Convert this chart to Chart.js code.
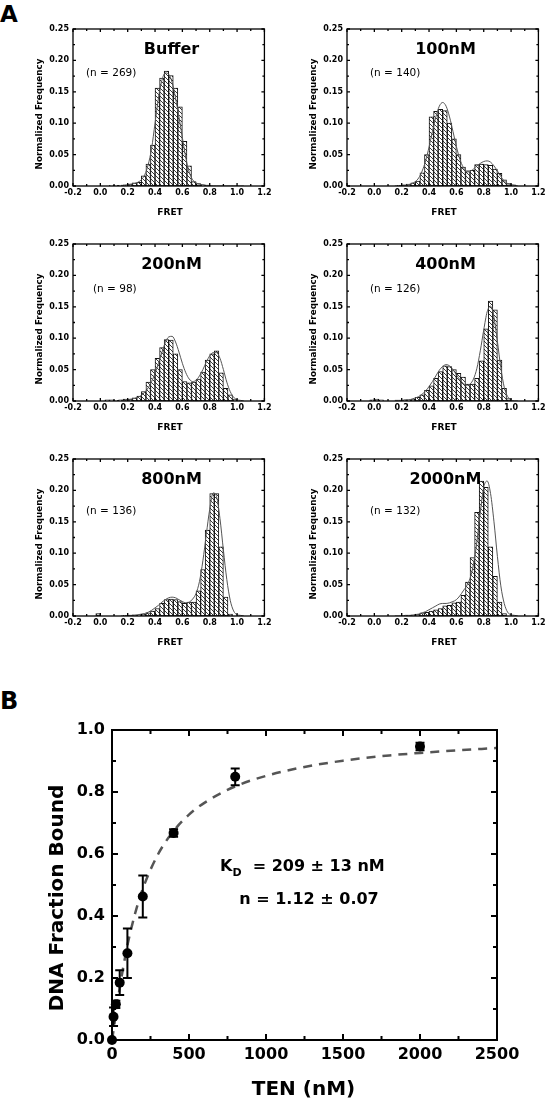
<!DOCTYPE html>
<html>
<head>
<meta charset="utf-8">
<script src="https://cdn.jsdelivr.net/npm/chart.js@4.4.1/dist/chart.umd.min.js"></script>
<style>
  body { margin: 0; background: #fff; width: 548px; height: 1103px; position: relative; overflow: hidden; }
  .panel { position: absolute; }
  .letter { position: absolute; left: 0; font: bold 23px 'DejaVu Sans'; line-height: 23px; }
</style>
</head>
<body>
<div class="letter" style="top:3px">A</div>
<div class="letter" style="top:689px;font-size:24px;line-height:24px">B</div>

<script>
// ── Panel A: FRET histograms (bin width 1/30) ─────────
const BIN_CENTERS = [-0.0167, 0.0167, 0.05, 0.0833, 0.1167, 0.15, 0.1833, 0.2167, 0.25, 0.2833, 0.3167,
  0.35, 0.3833, 0.4167, 0.45, 0.4833, 0.5167, 0.55, 0.5833, 0.6167, 0.65, 0.6833, 0.7167, 0.75,
  0.7833, 0.8167, 0.85, 0.8833, 0.9167, 0.95, 0.9833, 1.0167, 1.05]

const PANEL_LABELS = ['Buffer', '100nM', '200nM', '400nM', '800nM', '2000nM']
const PANEL_N      = [269, 140, 98, 126, 136, 132]

const FREQ_BUFFER = [0, 0, 0, 0.001, 0.001, 0.001, 0.002, 0.003, 0.005, 0.006, 0.016, 0.035, 0.065,
  0.156, 0.172, 0.183, 0.176, 0.156, 0.126, 0.071, 0.032, 0.007, 0.004, 0.002, 0.001, 0, 0, 0, 0, 0, 0, 0, 0]
const FREQ_100 = [0, 0, 0, 0, 0, 0, 0.001, 0.002, 0.003, 0.005, 0.008, 0.021, 0.05,
  0.11, 0.119, 0.122, 0.12, 0.1, 0.075, 0.05, 0.03, 0.023, 0.025, 0.034, 0.035, 0.034, 0.033, 0.027, 0.02, 0.01, 0.004, 0.002, 0]
const FREQ_200 = [0, 0, 0.002, 0.002, 0.001, 0.002, 0.003, 0.003, 0.005, 0.008, 0.015, 0.03, 0.05,
  0.068, 0.085, 0.098, 0.097, 0.075, 0.05, 0.031, 0.029, 0.03, 0.035, 0.046, 0.065, 0.075, 0.08, 0.045, 0.02, 0.01, 0.003, 0, 0]
const FREQ_400 = [0.002, 0.003, 0.002, 0, 0, 0, 0, 0.001, 0.002, 0.003, 0.006, 0.01, 0.017,
  0.024, 0.036, 0.047, 0.056, 0.055, 0.05, 0.044, 0.038, 0.027, 0.027, 0.036, 0.064, 0.115, 0.159, 0.145, 0.065, 0.02, 0.004, 0, 0]
const FREQ_800 = [0.004, 0, 0, 0, 0, 0, 0.001, 0.001, 0.002, 0.002, 0.003, 0.005, 0.008,
  0.012, 0.02, 0.026, 0.027, 0.026, 0.023, 0.02, 0.022, 0.022, 0.04, 0.074, 0.137, 0.195, 0.195, 0.11, 0.03, 0.003, 0, 0, 0]
const FREQ_2000 = [0, 0, 0, 0, 0, 0, 0, 0, 0.001, 0.002, 0.003, 0.005, 0.006,
  0.008, 0.01, 0.012, 0.016, 0.017, 0.021, 0.022, 0.033, 0.054, 0.093, 0.165, 0.215, 0.205, 0.11, 0.063, 0.022, 0.004, 0, 0, 0]

// Gaussian fit curves
const FIT_X = [0.15, 0.175, 0.2, 0.225, 0.25, 0.275, 0.3, 0.325, 0.35, 0.375, 0.4, 0.425, 0.45, 0.475,
  0.5, 0.525, 0.55, 0.575, 0.6, 0.625, 0.65, 0.675, 0.7, 0.725, 0.75, 0.775, 0.8, 0.825, 0.85, 0.875,
  0.9, 0.925, 0.95, 0.975, 1.0, 1.025, 1.05]
const FIT_BUFFER = [0.001, 0.001, 0.002, 0.003, 0.004, 0.006, 0.01, 0.018, 0.034, 0.06, 0.1, 0.14, 0.168, 0.18,
  0.178, 0.165, 0.14, 0.11, 0.077, 0.045, 0.022, 0.01, 0.005, 0.003, 0.002, 0.001, 0.001, 0, 0, 0, 0, 0, 0, 0, 0, 0, 0]
const FIT_100 = [0, 0, 0.001, 0.001, 0.002, 0.004, 0.007, 0.013, 0.024, 0.04, 0.062, 0.087, 0.11, 0.127,
  0.133, 0.127, 0.11, 0.087, 0.063, 0.043, 0.03, 0.024, 0.024, 0.027, 0.032, 0.036, 0.039, 0.04, 0.038, 0.032,
  0.024, 0.015, 0.008, 0.004, 0.002, 0.001, 0]
const FIT_200 = [0.001, 0.001, 0.002, 0.003, 0.004, 0.006, 0.009, 0.014, 0.021, 0.031, 0.044, 0.06, 0.077, 0.093,
  0.102, 0.103, 0.094, 0.078, 0.06, 0.045, 0.035, 0.031, 0.033, 0.04, 0.05, 0.062, 0.072, 0.077, 0.077, 0.068,
  0.05, 0.03, 0.015, 0.006, 0.002, 0.001, 0]
const FIT_400 = [0.001, 0.001, 0.001, 0.002, 0.002, 0.003, 0.005, 0.007, 0.011, 0.016, 0.023, 0.031, 0.04, 0.049,
  0.055, 0.058, 0.056, 0.05, 0.042, 0.034, 0.028, 0.025, 0.027, 0.035, 0.052, 0.08, 0.113, 0.142, 0.151, 0.133,
  0.095, 0.053, 0.022, 0.007, 0.002, 0, 0]
const FIT_800 = [0, 0, 0.001, 0.001, 0.001, 0.002, 0.003, 0.004, 0.006, 0.009, 0.013, 0.017, 0.022, 0.026,
  0.029, 0.03, 0.029, 0.026, 0.023, 0.021, 0.022, 0.027, 0.036, 0.055, 0.088, 0.13, 0.17, 0.196, 0.19, 0.155,
  0.105, 0.058, 0.025, 0.008, 0.002, 0.001, 0]
const FIT_2000 = [0, 0, 0, 0.001, 0.001, 0.001, 0.002, 0.003, 0.005, 0.007, 0.01, 0.013, 0.016, 0.019,
  0.02, 0.02, 0.021, 0.023, 0.026, 0.032, 0.04, 0.048, 0.06, 0.082, 0.118, 0.165, 0.205, 0.215, 0.195, 0.15,
  0.095, 0.048, 0.02, 0.006, 0.002, 0.001, 0]

const HIST_FREQ = [FREQ_BUFFER, FREQ_100, FREQ_200, FREQ_400, FREQ_800, FREQ_2000]
const HIST_FIT  = [FIT_BUFFER, FIT_100, FIT_200, FIT_400, FIT_800, FIT_2000]

// ── Panel B: binding curve ────────────────────────────
const TEN_NM         = [0, 10, 25, 50, 100, 200, 400, 800, 2000]
const FRACTION_BOUND = [0.0, 0.075, 0.115, 0.185, 0.28, 0.463, 0.668, 0.849, 0.947]
const FRACTION_ERR   = [0, 0.03, 0.012, 0.04, 0.08, 0.068, 0.012, 0.027, 0.012]
const FIT_TEN   = [0, 10, 25, 50, 100, 150, 200, 300, 400, 500, 600, 800, 1000, 1200, 1500, 1800, 2000, 2200, 2500]
const FIT_BOUND = [0, 0.032, 0.085, 0.168, 0.305, 0.408, 0.488, 0.6, 0.674, 0.727, 0.765, 0.818, 0.852, 0.876,
  0.901, 0.918, 0.926, 0.933, 0.942]

// ── Layout (canvas positions, text offsets) ───────────
const FONT = '"DejaVu Sans"'
const HIST_POS  = [[0, 20], [274, 20], [0, 235], [274, 235], [0, 450], [274, 450]]
const N_OFFSET  = [[13, 46.5], [23, 46.5], [20, 47.5], [23, 47.5], [13, 55], [23, 55]]

Chart.defaults.font.family = 'DejaVu Sans'
Chart.defaults.color = '#000'
Chart.defaults.animation = false
Chart.defaults.events = []

function addCanvas(left, top, w, h) {
  const div = document.createElement('div')
  div.className = 'panel'
  div.style.left = left + 'px'
  div.style.top = top + 'px'
  const c = document.createElement('canvas')
  c.width = w
  c.height = h
  div.appendChild(c)
  document.body.appendChild(div)
  return c
}

function hatchPattern(ctx) {
  const tile = document.createElement('canvas')
  tile.width = 4
  tile.height = 4
  const g = tile.getContext('2d')
  g.fillStyle = '#fff'
  g.fillRect(0, 0, 4, 4)
  g.strokeStyle = '#222'
  g.lineWidth = 0.9
  g.beginPath()
  g.moveTo(-1, -1); g.lineTo(5, 5)
  g.moveTo(3, -1);  g.lineTo(5, 1)
  g.moveTo(-1, 3);  g.lineTo(1, 5)
  g.stroke()
  return ctx.createPattern(tile, 'repeat')
}

function drawText(ctx, a, t) {
  ctx.save()
  ctx.fillStyle = '#000'
  ctx.translate(a.left + t.x, a.top + t.y)
  if (t.rotate) ctx.rotate(-Math.PI / 2)
  ctx.textBaseline = t.baseline || 'alphabetic'
  ctx.textAlign = 'left'
  const parts = t.parts || [{ text: t.text, font: t.font }]
  let total = 0
  parts.forEach(p => { ctx.font = p.font; total += ctx.measureText(p.text).width })
  let x = t.align === 'center' ? -total / 2 : 0
  parts.forEach(p => {
    ctx.font = p.font
    ctx.fillText(p.text, x, p.dy || 0)
    x += ctx.measureText(p.text).width
  })
  ctx.restore()
}

// frame box + inward major/minor ticks on all four sides, plus free texts
function framePlugin(cfg) {
  return {
    id: 'frame',
    afterDraw(chart) {
      const { ctx, chartArea: a, scales } = chart
      const marks = scale => {
        const vals = scale.ticks.map(t => t.value)
        const out = []
        vals.forEach((v, i) => {
          out.push([v, cfg.major])
          if (i < vals.length - 1) out.push([(v + vals[i + 1]) / 2, cfg.minor])
        })
        return out
      }
      ctx.save()
      ctx.strokeStyle = '#000'
      ctx.lineWidth = cfg.lineWidth
      ctx.strokeRect(a.left, a.top, a.right - a.left, a.bottom - a.top)
      ctx.beginPath()
      marks(scales.x).forEach(([v, len]) => {
        const px = scales.x.getPixelForValue(v)
        ctx.moveTo(px, a.bottom); ctx.lineTo(px, a.bottom - len)
        ctx.moveTo(px, a.top);    ctx.lineTo(px, a.top + len)
      })
      marks(scales.y).forEach(([v, len]) => {
        const py = scales.y.getPixelForValue(v)
        ctx.moveTo(a.left, py);  ctx.lineTo(a.left + len, py)
        ctx.moveTo(a.right, py); ctx.lineTo(a.right - len, py)
      })
      ctx.stroke()
      ctx.restore()
      cfg.texts.forEach(t => drawText(ctx, a, t))
    },
  }
}

function fmt(v, d) {
  return (Math.abs(v) < 1e-9 ? 0 : v).toFixed(d)
}

// ── Histograms ─────────────────────────────────────────
PANEL_LABELS.forEach((label, i) => {
  const [left, top] = HIST_POS[i]
  const canvas = addCanvas(left, top, 274, 205)
  const ctx = canvas.getContext('2d')
  const tickFont = { family: 'DejaVu Sans', weight: 'bold', size: 8 }

  new Chart(canvas, {
    type: 'bar',
    data: {
      datasets: [
        {
          type: 'line',
          data: FIT_X.map((x, j) => ({ x, y: HIST_FIT[i][j] })),
          borderColor: '#555',
          borderWidth: 1,
          pointRadius: 0,
          cubicInterpolationMode: 'monotone',
        },
        {
          type: 'bar',
          data: BIN_CENTERS.map((x, j) => ({ x, y: HIST_FREQ[i][j] })),
          backgroundColor: hatchPattern(ctx),
          borderColor: '#111',
          borderWidth: 1,
          borderSkipped: false,
          categoryPercentage: 1,
          barPercentage: 1,
        },
      ],
    },
    options: {
      responsive: false,
      layout: { padding: { left: 0, top: 9, right: 7, bottom: 0 } },
      plugins: { legend: { display: false }, tooltip: { enabled: false } },
      scales: {
        x: {
          type: 'linear', min: -0.2, max: 1.2, offset: false,
          grid: { display: false, drawTicks: false, offset: false },
          border: { display: false },
          ticks: { stepSize: 0.2, padding: 2.5, font: tickFont, maxRotation: 0, autoSkip: false,
                   callback: v => fmt(v, 1) },
          afterFit: s => { s.height = 39 },
        },
        y: {
          min: 0, max: 0.25,
          grid: { display: false, drawTicks: false },
          border: { display: false },
          ticks: { stepSize: 0.05, padding: 4, font: tickFont, callback: v => fmt(v, 2) },
          afterFit: s => { s.width = 73 },
        },
      },
    },
    plugins: [framePlugin({
      lineWidth: 1.3, major: 3, minor: 2,
      texts: [
        { text: label, x: 98.5, y: 25, font: `bold 16px ${FONT}`, align: 'center' },
        { text: `(n = ${PANEL_N[i]})`, x: N_OFFSET[i][0], y: N_OFFSET[i][1], font: `10.5px ${FONT}` },
        { text: 'FRET', x: 97, y: 185.5, font: `bold 9px ${FONT}`, align: 'center' },
        { text: 'Normalized Frequency', x: -33, y: 85, font: `bold 8.8px ${FONT}`,
          align: 'center', rotate: true, baseline: 'middle' },
      ],
    })],
  })
})

// ── Binding curve ─────────────────────────────────────
{
  const canvas = addCanvas(0, 690, 548, 413)
  const tickFont = { family: 'DejaVu Sans', weight: 'bold', size: 16 }

  const errorBars = {
    id: 'errorBars',
    afterDatasetDraw(chart, args) {
      if (args.index !== 1) return
      const { ctx, scales: { x, y } } = chart
      ctx.save()
      ctx.strokeStyle = '#000'
      ctx.lineWidth = 2
      ctx.beginPath()
      TEN_NM.forEach((t, j) => {
        const e = FRACTION_ERR[j]
        if (!e) return
        const px = x.getPixelForValue(t)
        const y1 = y.getPixelForValue(FRACTION_BOUND[j] + e)
        const y2 = y.getPixelForValue(FRACTION_BOUND[j] - e)
        ctx.moveTo(px, y1); ctx.lineTo(px, y2)
        ctx.moveTo(px - 4.5, y1); ctx.lineTo(px + 4.5, y1)
        ctx.moveTo(px - 4.5, y2); ctx.lineTo(px + 4.5, y2)
      })
      ctx.stroke()
      ctx.restore()
    },
  }

  new Chart(canvas, {
    type: 'scatter',
    data: {
      datasets: [
        {
          data: TEN_NM.map((x, j) => ({ x, y: FRACTION_BOUND[j] })),
          pointRadius: 5,
          pointBackgroundColor: '#000',
          pointBorderColor: '#000',
          pointBorderWidth: 0,
          clip: false,
        },
        {
          data: FIT_TEN.map((x, j) => ({ x, y: FIT_BOUND[j] })),
          showLine: true,
          borderColor: '#555',
          borderWidth: 2.5,
          borderDash: [9, 7],
          pointRadius: 0,
          cubicInterpolationMode: 'monotone',
        },
      ],
    },
    options: {
      responsive: false,
      layout: { padding: { left: 0, top: 40, right: 51, bottom: 0 } },
      plugins: { legend: { display: false }, tooltip: { enabled: false } },
      scales: {
        x: {
          type: 'linear', min: 0, max: 2500,
          grid: { display: false, drawTicks: false },
          border: { display: false },
          ticks: { stepSize: 500, padding: 5.5, font: tickFont, maxRotation: 0, autoSkip: false,
                   callback: v => String(v) },
          afterFit: s => { s.height = 63 },
        },
        y: {
          min: 0, max: 1,
          grid: { display: false, drawTicks: false },
          border: { display: false },
          ticks: { stepSize: 0.2, padding: 7, font: tickFont, callback: v => fmt(v, 1) },
          afterFit: s => { s.width = 112 },
        },
      },
    },
    plugins: [errorBars, framePlugin({
      lineWidth: 2, major: 6, minor: 4,
      texts: [
        { x: 108, y: 141, parts: [
          { text: 'K', font: `bold 16px ${FONT}` },
          { text: 'D', font: `bold 11px ${FONT}`, dy: 5 },
          { text: '  = 209 ± 13 nM', font: `bold 16px ${FONT}` },
        ] },
        { text: 'n = 1.12 ± 0.07', x: 197, y: 174, font: `bold 16px ${FONT}`, align: 'center' },
        { text: 'TEN (nM)', x: 191.5, y: 365, font: `bold 20px ${FONT}`, align: 'center' },
        { text: 'DNA Fraction Bound', x: -54, y: 168, font: `bold 20px ${FONT}`,
          align: 'center', rotate: true, baseline: 'middle' },
      ],
    })],
  })
}
</script>
</body>
</html>
